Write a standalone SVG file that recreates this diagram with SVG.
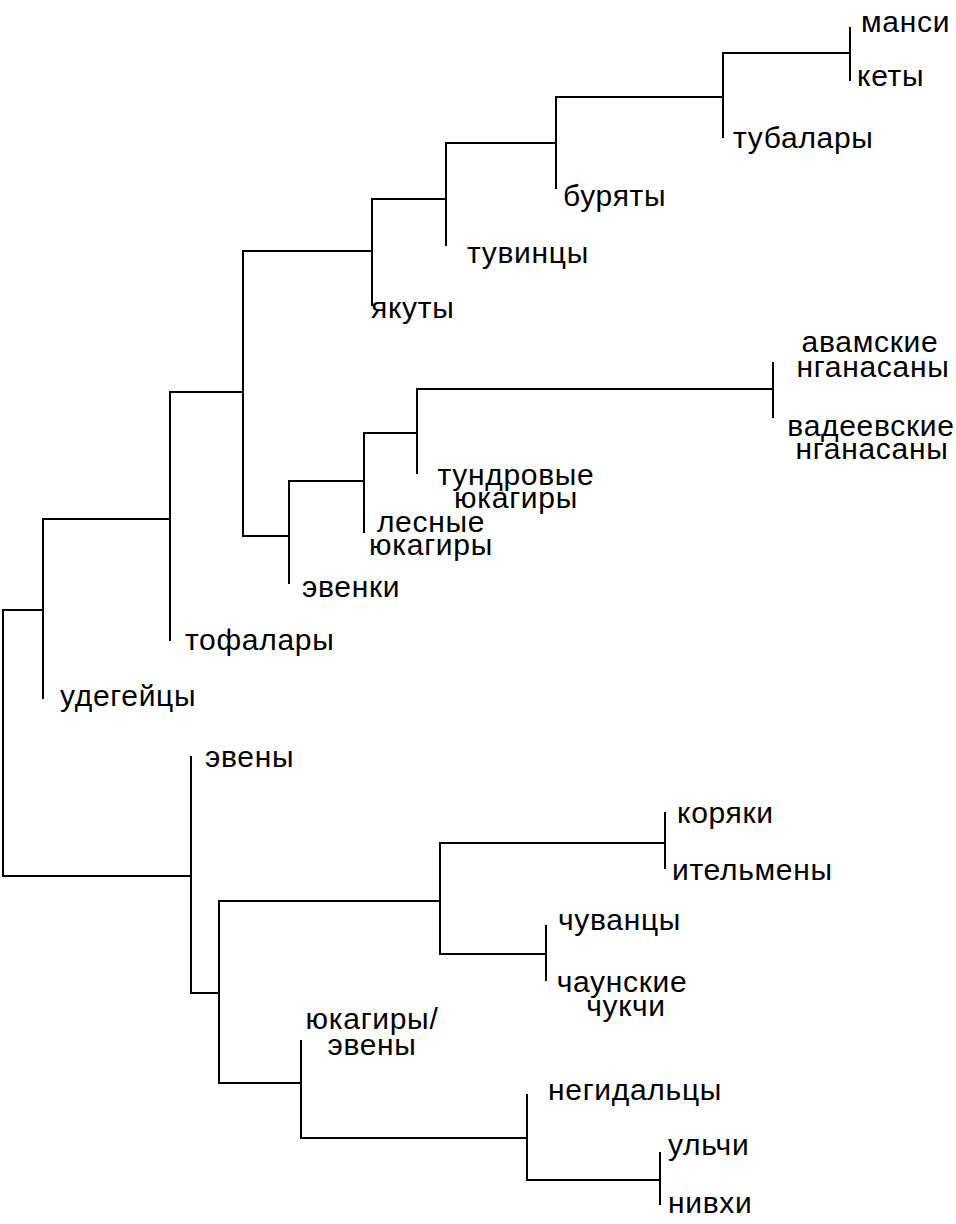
<svg xmlns="http://www.w3.org/2000/svg" width="956" height="1224" viewBox="0 0 956 1224">
<style>
.e{fill:none;stroke:#000;stroke-width:2;stroke-linecap:square}
text{font-family:"Liberation Sans",Arial,sans-serif;font-size:30px;letter-spacing:0.7px;fill:#000}
.c{text-anchor:middle}
</style>
<rect width="956" height="1224" fill="#fff"/>
<g id="connectors">
<path class="e" d="M850,28V80M723,53H850M723,53V137M556,97H723M556,97V188M446,143H556M446,143V245M372,199H446M372,199V305M243,251H372M243,251V536M243,536H289M289,481V583M289,481H364M364,433V532M364,433H417M417,389V473M417,389H773M773,363V417M170,392H243M170,392V640M43,519H170M43,519V698M3,610H43M3,610V876M3,876H191M191,757V993M191,993H219M219,901V1083M219,901H440M440,843V954M440,843H665M665,813V868M440,954H546M546,926V980M219,1083H301M301,1041V1138M301,1138H527M527,1095V1180M527,1180H660M660,1153V1204"/>
</g>
<g id="n-mansi"><text x="861" y="32">манси</text></g>
<g id="n-kety"><text x="857" y="86">кеты</text></g>
<g id="n-tubalary"><text x="733" y="148">тубалары</text></g>
<g id="n-buryaty"><text x="563" y="206">буряты</text></g>
<g id="n-tuvintsy"><text x="467" y="263">тувинцы</text></g>
<g id="n-yakuty"><text x="371" y="318">якуты</text></g>
<g id="n-avam"><text class="c" x="870" y="352">авамские</text><text class="c" x="873" y="377">нганасаны</text></g>
<g id="n-vadeev"><text class="c" x="871" y="436">вадеевские</text><text class="c" x="872" y="459">нганасаны</text></g>
<g id="n-tundr"><text class="c" x="516" y="485">тундровые</text><text class="c" x="516" y="508">юкагиры</text></g>
<g id="n-lesnye"><text class="c" x="431" y="532">лесные</text><text class="c" x="431" y="555">юкагиры</text></g>
<g id="n-evenki"><text x="302" y="597">эвенки</text></g>
<g id="n-tofalary"><text x="185" y="650">тофалары</text></g>
<g id="n-udege"><text x="60" y="706">удегейцы</text></g>
<g id="n-eveny"><text x="205" y="767">эвены</text></g>
<g id="n-koryaki"><text x="677" y="823">коряки</text></g>
<g id="n-itelmeny"><text x="672" y="880">ительмены</text></g>
<g id="n-chuvantsy"><text x="558" y="930">чуванцы</text></g>
<g id="n-chaun"><text class="c" x="622" y="992">чаунские</text><text class="c" x="626" y="1016">чукчи</text></g>
<g id="n-yuk-even"><text class="c" x="372" y="1029">юкагиры/</text><text class="c" x="372" y="1055">эвены</text></g>
<g id="n-negid"><text x="548" y="1100">негидальцы</text></g>
<g id="n-ulchi"><text x="668" y="1155">ульчи</text></g>
<g id="n-nivkhi"><text x="668" y="1213">нивхи</text></g>
</svg>
